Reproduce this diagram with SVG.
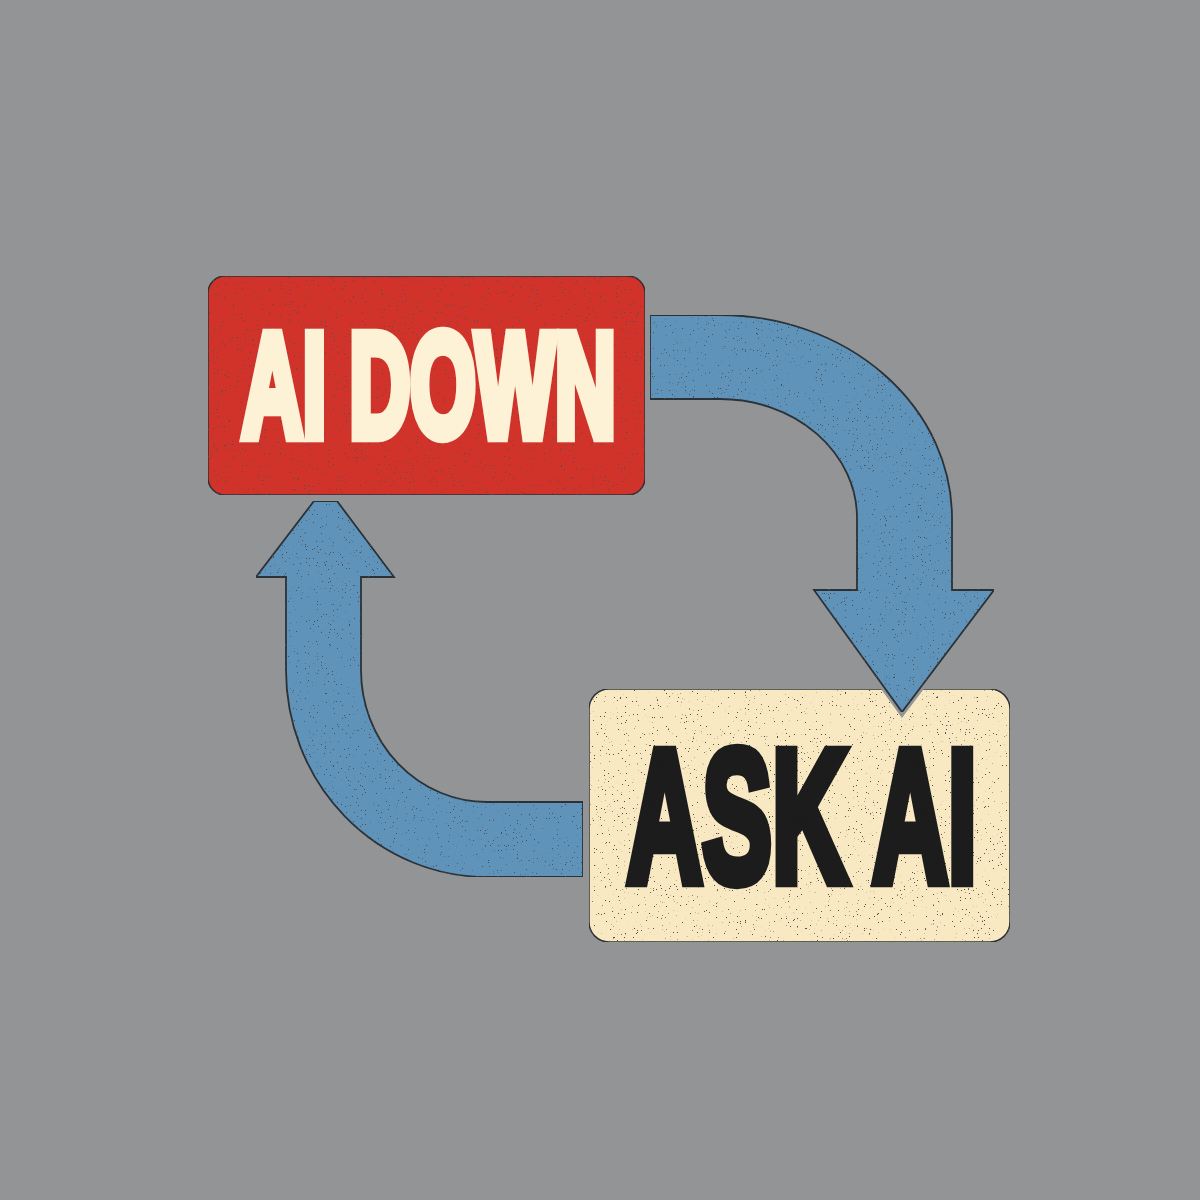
<svg xmlns="http://www.w3.org/2000/svg" width="1200" height="1200" viewBox="0 0 1200 1200">
<defs>
<style>
.bg{fill:#939496}
.box{stroke:#2e3033;stroke-width:1.5}
.red{fill:#d1302b}
.cream{fill:#f9e9c3}
.arrow{fill:#5f93b9;stroke:#2b3238;stroke-width:1.8;stroke-linejoin:miter}
.halo{fill:none;stroke:#939496;stroke-width:7;stroke-linejoin:miter}
.lbl{font-family:"Liberation Sans",Arial,sans-serif;font-weight:700;stroke-linejoin:miter}
.lbl-light{fill:#fdf1d6;stroke:#fdf1d6;stroke-width:10}
.lbl-dark{fill:#1c1c1c;stroke:#1c1c1c;stroke-width:10}
</style>
<filter id="grunge" x="0" y="0" width="100%" height="100%">
<feTurbulence type="fractalNoise" baseFrequency="0.75" numOctaves="3" seed="7" result="n"/>
<feColorMatrix in="n" type="matrix" values="0 0 0 0 0.08  0 0 0 0 0.08  0 0 0 0 0.08  22 0 0 0 -15.6" result="specks"/>
<feComposite in="specks" in2="SourceGraphic" operator="in" result="s2"/>
<feMerge><feMergeNode in="SourceGraphic"/><feMergeNode in="s2"/></feMerge>
</filter>
</defs>
<rect class="bg" x="0" y="0" width="1200" height="1200"/>
<g id="node-ai-down">
<rect class="box red" x="208" y="276" width="437" height="219" rx="17" filter="url(#grunge)"/>
<text class="lbl lbl-light" transform="translate(242,436) scale(0.572,1)" x="0" y="0" font-size="147" vector-effect="non-scaling-stroke">AI DOWN</text>
</g>
<g id="node-ask-ai">
<rect class="box cream" x="589" y="689" width="421" height="253" rx="20" filter="url(#grunge)"/>
<text class="lbl lbl-dark" transform="translate(627,881) scale(0.555,1)" x="0" y="0" font-size="188" vector-effect="non-scaling-stroke">ASK AI</text>
</g>
<g id="connectors">
<path class="halo" d="M650,315 L720,315 A232,203 0 0 1 952,518 L952,590 L994,590 L902,712 L814,590 L857,590 L857,518 A137,119 0 0 0 720,399 L650,399 Z"/>
<path class="arrow" filter="url(#grunge)" d="M650,315 L720,315 A232,203 0 0 1 952,518 L952,590 L994,590 L902,712 L814,590 L857,590 L857,518 A137,119 0 0 0 720,399 L650,399 Z"/>
<path class="arrow" filter="url(#grunge)" d="M583,802 L487,802 A126,132 0 0 1 361,670 L361,577 L394,577 L337,501 L314,501 L256,577 L286,577 L286,670 A201,207 0 0 0 487,877 L583,877 Z"/>
</g>
</svg>
